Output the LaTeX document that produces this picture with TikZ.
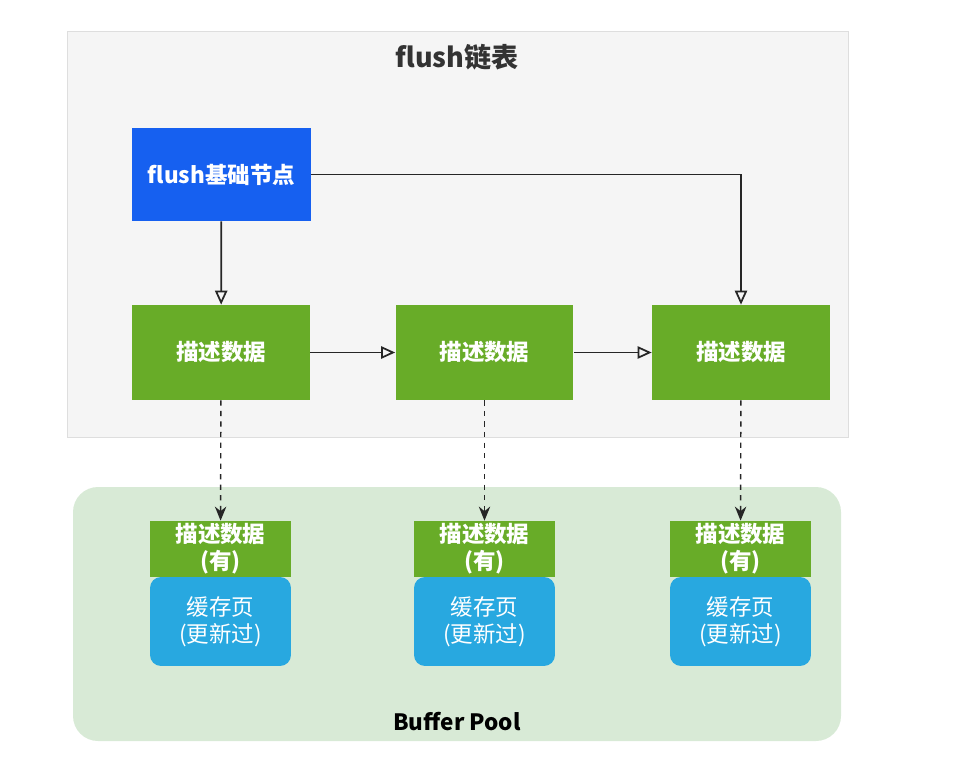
\documentclass[tikz,border=0pt]{standalone}
\usepackage{fontspec}
\setmainfont{Noto Sans CJK SC}
\usepackage{xcolor}
\definecolor{panelgray}{RGB}{245,245,245}
\definecolor{panelline}{RGB}{222,222,222}
\definecolor{nodeblue}{RGB}{22,96,240}
\definecolor{descgreen}{RGB}{104,172,40}
\definecolor{pageblue}{RGB}{40,168,224}
\definecolor{poolgreen}{RGB}{216,234,214}
\usepackage{tikz}
\usetikzlibrary{arrows.meta,calc}

\begin{document}
\begin{tikzpicture}[x=0.02cm,y=-0.02cm,
  every node/.style={font=\fontsize{12.8}{15.3}\selectfont},
  basebox/.style={fill=nodeblue,text=white,font=\fontsize{12.8}{15.3}\selectfont\bfseries,minimum width=3.58cm,minimum height=1.86cm,inner sep=0pt},
  descbox/.style={fill=descgreen,text=white,font=\fontsize{12.8}{15.3}\selectfont\bfseries,minimum width=3.56cm,minimum height=1.9cm,inner sep=0pt},
  hasbox/.style={fill=descgreen,text=white,font=\fontsize{12.8}{15.3}\selectfont\bfseries,align=center,minimum width=2.82cm,minimum height=1.12cm,inner sep=0pt},
  pagebox/.style={fill=pageblue,text=white,align=center,rounded corners=0.22cm,minimum width=2.82cm,minimum height=1.78cm,inner sep=0pt},
  link/.style={draw=black!85,line width=1pt,-{Triangle[open,length=8pt,width=7pt]}},
  ref/.style={draw=black!85,line width=0.8pt,dashed,-{Stealth[length=8pt,width=6.5pt]}}]
  \useasboundingbox (0,0) rectangle (958,782);

  % the two panels
  \draw[panelline,fill=panelgray] (67,31) rectangle (848,437);
  \node[font=\fontsize{15.4}{18}\selectfont\bfseries,text=black!80] (title) at (457,57) {flush链表};
  \fill[poolgreen,rounded corners=0.5cm] (73,487) rectangle (841,741);
  \node[font=\fontsize{12.8}{15.3}\selectfont\bfseries,text=black] (pool) at (457,722) {Buffer Pool};

  % flush list
  \node[basebox] (base) at (221.5,174.5) {flush基础节点};
  \foreach \i/\x in {1/221,2/484.5,3/741} {
    \node[descbox] (desc\i) at (\x,352.5) {描述数据};
  }

  % buffer pool pages
  \foreach \i/\x in {1/220.5,2/484.5,3/740.5} {
    \node[pagebox] (page\i) at (\x,621.5) {缓存页\\(更新过)};
    \node[hasbox] (has\i) at (\x,549) {描述数据\\(有)};
  }

  \draw[link] (base) -- (desc1);
  \draw[link] (base.east) -| (desc3.north);
  \draw[link] (desc1) -- (desc2);
  \draw[link] (desc2) -- (desc3);
  \foreach \i in {1,2,3}
    \draw[ref] (desc\i) -- (has\i);
\end{tikzpicture}
\end{document}
